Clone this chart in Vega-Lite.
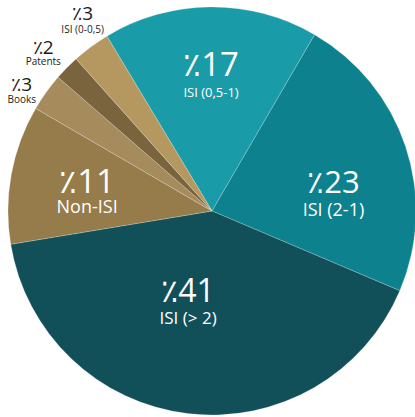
{
  "$schema": "https://vega.github.io/schema/vega-lite/v6.json",
  "width": 406,
  "height": 412,
  "autosize": "none",
  "padding": {"left": 9, "top": 5, "right": 0, "bottom": 0},
  "background": "#ffffff",
  "config": {"view": {"stroke": null}},
  "data": {
    "values": [
      {"idx": 1, "cat": "ISI (0,5-1)", "value": 17, "label": "٪17"},
      {"idx": 2, "cat": "ISI (2-1)", "value": 23, "label": "٪23"},
      {"idx": 3, "cat": "ISI (> 2)", "value": 41, "label": "٪41"},
      {"idx": 4, "cat": "Non-ISI", "value": 11, "label": "٪11"},
      {"idx": 5, "cat": "Books", "value": 3, "label": "٪3"},
      {"idx": 6, "cat": "Patents", "value": 2, "label": "٪2"},
      {"idx": 7, "cat": "ISI (0-0,5)", "value": 3, "label": "٪3"}
    ]
  },
  "encoding": {
    "theta": {"field": "value", "type": "quantitative", "stack": true, "scale": {"range": [-0.5411, 5.7421]}},
    "order": {"field": "idx", "type": "quantitative"},
    "detail": {"field": "cat", "type": "nominal"}
  },
  "layer": [
    {
      "mark": {"type": "arc", "outerRadius": 204, "stroke": "#ffffff", "strokeWidth": 0.6, "strokeOpacity": 0.35},
      "encoding": {
        "color": {
          "field": "cat", "type": "nominal", "legend": null,
          "scale": {
            "domain": ["ISI (0,5-1)", "ISI (2-1)", "ISI (> 2)", "Non-ISI", "Books", "Patents", "ISI (0-0,5)"],
            "range": ["#1a9ba8", "#0d818d", "#114f59", "#957c4a", "#a68b5d", "#7a643d", "#b4985f"]
          }
        }
      }
    },
    {
      "mark": {"type": "text", "radius": 135, "dy": 0, "fontSize": 33, "font": "Open Sans", "color": "#ffffff", "align": "center", "baseline": "alphabetic"},
      "encoding": {"text": {"condition": {"test": "datum.cat === 'ISI (0,5-1)'", "field": "label"}, "value": ""}}
    },
    {
      "mark": {"type": "text", "radius": 135, "dy": 21, "fontSize": 13, "font": "Open Sans", "color": "#ffffff", "align": "center", "baseline": "alphabetic"},
      "encoding": {"text": {"condition": {"test": "datum.cat === 'ISI (0,5-1)'", "field": "cat"}, "value": ""}}
    },
    {
      "mark": {"type": "text", "radius": 128, "dy": 22, "fontSize": 31, "font": "Open Sans", "color": "#ffffff", "align": "center", "baseline": "alphabetic"},
      "encoding": {"text": {"condition": {"test": "datum.cat === 'ISI (2-1)'", "field": "label"}, "value": ""}}
    },
    {
      "mark": {"type": "text", "radius": 128, "dy": 45, "fontSize": 18, "font": "Open Sans", "color": "#ffffff", "align": "center", "baseline": "alphabetic"},
      "encoding": {"text": {"condition": {"test": "datum.cat === 'ISI (2-1)'", "field": "cat"}, "value": ""}}
    },
    {
      "mark": {"type": "text", "radius": 92, "dx": -13, "dy": 0, "fontSize": 32, "font": "Open Sans", "color": "#ffffff", "align": "center", "baseline": "alphabetic"},
      "encoding": {"text": {"condition": {"test": "datum.cat === 'ISI (> 2)'", "field": "label"}, "value": ""}}
    },
    {
      "mark": {"type": "text", "radius": 92, "dx": -13, "dy": 22, "fontSize": 17, "font": "Open Sans", "color": "#ffffff", "align": "center", "baseline": "alphabetic"},
      "encoding": {"text": {"condition": {"test": "datum.cat === 'ISI (> 2)'", "field": "cat"}, "value": ""}}
    },
    {
      "mark": {"type": "text", "radius": 127, "dy": 5, "fontSize": 33, "font": "Open Sans", "color": "#ffffff", "align": "center", "baseline": "alphabetic"},
      "encoding": {"text": {"condition": {"test": "datum.cat === 'Non-ISI'", "field": "label"}, "value": ""}}
    },
    {
      "mark": {"type": "text", "radius": 127, "dy": 25, "fontSize": 18, "font": "Open Sans", "fontWeight": 500, "color": "#ffffff", "align": "center", "baseline": "alphabetic"},
      "encoding": {"text": {"condition": {"test": "datum.cat === 'Non-ISI'", "field": "cat"}, "value": ""}}
    },
    {
      "mark": {"type": "text", "radius": 234, "dy": 16, "fontSize": 19, "font": "Open Sans", "color": "#1a1a1a", "align": "center", "baseline": "alphabetic"},
      "encoding": {"text": {"condition": {"test": "datum.cat === 'Books'", "field": "label"}, "value": ""}}
    },
    {
      "mark": {"type": "text", "radius": 234, "dy": 28, "fontSize": 10, "font": "Open Sans", "color": "#1a1a1a", "align": "center", "baseline": "alphabetic"},
      "encoding": {"text": {"condition": {"test": "datum.cat === 'Books'", "field": "cat"}, "value": ""}}
    },
    {
      "mark": {"type": "text", "radius": 237, "dy": 9, "fontSize": 19, "font": "Open Sans", "color": "#1a1a1a", "align": "center", "baseline": "alphabetic"},
      "encoding": {"text": {"condition": {"test": "datum.cat === 'Patents'", "field": "label"}, "value": ""}}
    },
    {
      "mark": {"type": "text", "radius": 237, "dy": 20, "fontSize": 10, "font": "Open Sans", "color": "#1a1a1a", "align": "center", "baseline": "alphabetic"},
      "encoding": {"text": {"condition": {"test": "datum.cat === 'Patents'", "field": "cat"}, "value": ""}}
    },
    {
      "mark": {"type": "text", "radius": 218, "dy": -16, "fontSize": 19, "font": "Open Sans", "color": "#1a1a1a", "align": "center", "baseline": "alphabetic"},
      "encoding": {"text": {"condition": {"test": "datum.cat === 'ISI (0-0,5)'", "field": "label"}, "value": ""}}
    },
    {
      "mark": {"type": "text", "radius": 218, "dy": -3, "fontSize": 10, "font": "Open Sans", "color": "#1a1a1a", "align": "center", "baseline": "alphabetic"},
      "encoding": {"text": {"condition": {"test": "datum.cat === 'ISI (0-0,5)'", "field": "cat"}, "value": ""}}
    }
  ]
}
